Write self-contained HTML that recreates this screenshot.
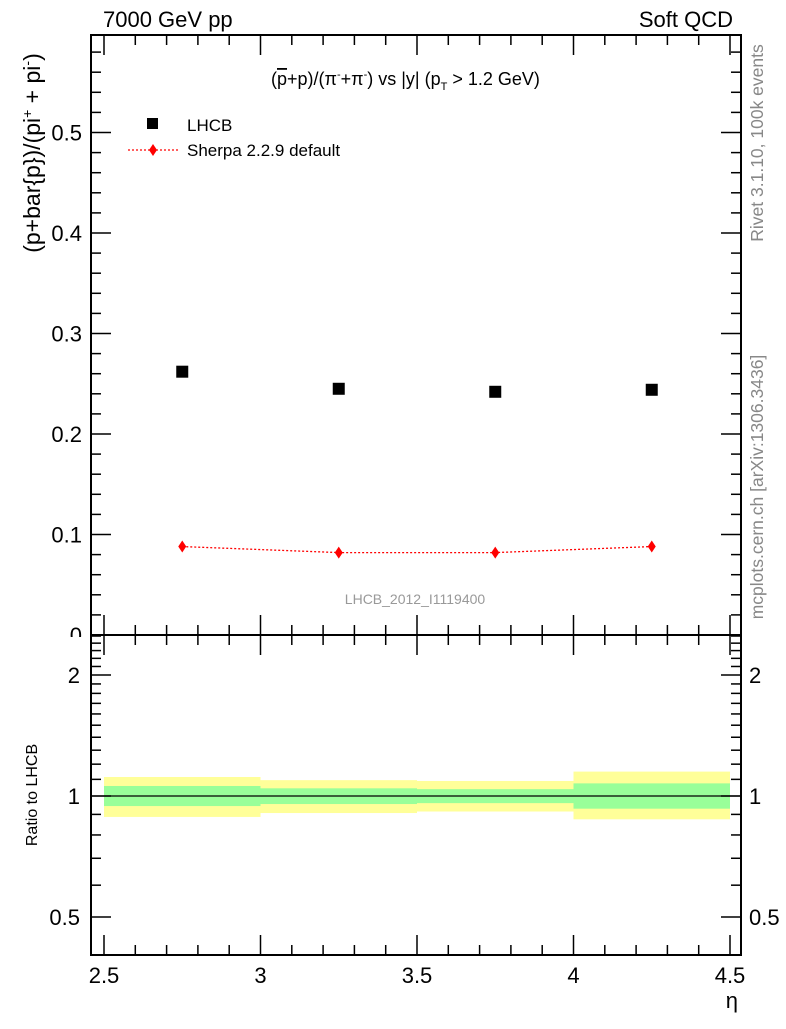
<!DOCTYPE html>
<html><head><meta charset="utf-8"><style>
body{margin:0;background:#fff;}
svg text{font-family:"Liberation Sans",sans-serif;}
</style></head><body>
<svg id="c" width="786" height="1024" xmlns="http://www.w3.org/2000/svg"></svg>
<script>
const categories=[2.75,3.25,3.75,4.25];
const binEdges=[2.5,3.0,3.5,4.0,4.5];
const lhcbValues=[0.262,0.245,0.242,0.244];
const sherpaValues=[0.088,0.082,0.082,0.088];
const yellowUp=[1.115,1.095,1.09,1.15];
const yellowDn=[0.887,0.907,0.915,0.875];
const greenUp=[1.059,1.045,1.04,1.075];
const greenDn=[0.944,0.955,0.96,0.93];
const mainTicks=[0,0.1,0.2,0.3,0.4,0.5];
const mainTickLabels=["0","0.1","0.2","0.3","0.4","0.5"];
const xTicks=[2.5,3,3.5,4,4.5];
const xTickLabels=["2.5","3","3.5","4","4.5"];
const ratioTicks=[0.5,1,2];
const ratioTickLabels=["0.5","1","2"];

const NS="http://www.w3.org/2000/svg";
const svg=document.getElementById('c');
const L=91,R=741,T=35,M=635,B=955;
const X=v=>104+(v-2.5)*313;
const Y=v=>635-v*1005;
const YR=v=>796-Math.log10(v)*402;
function el(t,a,p){const e=document.createElementNS(NS,t);for(const k in a)e.setAttribute(k,a[k]);(p||svg).appendChild(e);return e;}
function txt(x,y,s,o){const e=el('text',Object.assign({x:x,y:y,'font-size':20,fill:'#000'},o||{}));e.textContent=s;return e;}

for(let i=0;i<4;i++){
 const x0=X(binEdges[i]),x1=X(binEdges[i+1]);
 const yb=el('rect',{x:x0,y:YR(yellowUp[i]),width:x1-x0,height:YR(yellowDn[i])-YR(yellowUp[i]),fill:'#ffff99'});
 
 
 const gb=el('rect',{x:x0,y:YR(greenUp[i]),width:x1-x0,height:YR(greenDn[i])-YR(greenUp[i]),fill:'#99ff99'});
 
 
}
el('line',{x1:L,x2:R,y1:YR(1),y2:YR(1),stroke:'#000','stroke-width':1.3});

// main y tick labels (zero label partially hidden as in reference)
mainTicks.forEach((v,i)=>{const t=txt(82,Y(v)+8,mainTickLabels[i],{'text-anchor':'end','font-size':22});});
el('rect',{x:55,y:637,width:35,height:14,fill:'#fff'});

const f1=el('rect',{x:L,y:T,width:R-L,height:M-T,fill:'none',stroke:'#000','stroke-width':2});

const f2=el('rect',{x:L,y:M,width:R-L,height:B-M,fill:'none',stroke:'#000','stroke-width':2});


for(let v=2.5;v<=4.5001;v+=0.05){
 const major=Math.abs(v*2-Math.round(v*2))<1e-6;
 const mid=Math.abs(v*10-Math.round(v*10))<1e-6;
 const len=major?20:(mid?10:0);
 if(!len)continue;
 const x=X(v);
 el('line',{x1:x,x2:x,y1:M,y2:M-len,stroke:'#000','stroke-width':1.5});
 el('line',{x1:x,x2:x,y1:T,y2:T+len,stroke:'#000','stroke-width':1.5});
 el('line',{x1:x,x2:x,y1:B,y2:B-len,stroke:'#000','stroke-width':1.5});
 el('line',{x1:x,x2:x,y1:M,y2:M+len,stroke:'#000','stroke-width':1.5});
}
xTicks.forEach((v,i)=>{const t=txt(X(v),983,xTickLabels[i],{'text-anchor':'middle','font-size':22});});
const xl=txt(738,1008,'η',{'text-anchor':'end','font-size':22});

for(let v=0;v<=0.59;v+=0.02){
 const major=Math.abs(v*10-Math.round(v*10))<1e-6;
 const len=major?20:10;const y=Y(v);
 el('line',{x1:L,x2:L+len,y1:y,y2:y,stroke:'#000','stroke-width':1.5});
 el('line',{x1:R,x2:R-len,y1:y,y2:y,stroke:'#000','stroke-width':1.5});
}

const rminor=[0.4,0.5,0.6,0.7,0.8,0.9,1,1.1,1.2,1.3,1.4,1.5,1.6,1.7,1.8,1.9,2,2.1,2.2,2.3,2.4,2.5];
rminor.forEach(v=>{const major=ratioTicks.some(t=>Math.abs(t-v)<1e-6);const len=major?20:10;const y=YR(v);
 if(y<M||y>B)return;
 el('line',{x1:L,x2:L+len,y1:y,y2:y,stroke:'#000','stroke-width':1.5});
 el('line',{x1:R,x2:R-len,y1:y,y2:y,stroke:'#000','stroke-width':1.5});});
ratioTicks.forEach((v,i)=>{
 const t=txt(80,YR(v)+8,ratioTickLabels[i],{'text-anchor':'end','font-size':22});
 const t2=txt(749,YR(v)+8,ratioTickLabels[i],{'font-size':22});
});

const pts=categories.map((c,i)=>X(c)+','+Y(sherpaValues[i])).join(' ');
const sl=el('polyline',{points:pts,fill:'none',stroke:'#f00','stroke-width':1.3,'stroke-dasharray':'2,2'});

categories.forEach((c,i)=>{
 const x=X(c),y=Y(sherpaValues[i]);
 const d=el('polygon',{points:`${x},${y-6} ${x+4},${y} ${x},${y+6} ${x-4},${y}`,fill:'#f00'});
 
 const s=el('rect',{x:x-6,y:Y(lhcbValues[i])-6,width:12,height:12,fill:'#000'});
 
});

const lg=el('g',{});
el('rect',{x:147,y:118,width:11,height:11,fill:'#000'},lg);
txt(187,131,'LHCB',{'font-size':17},lg);
el('line',{x1:128,x2:178,y1:150,y2:150,stroke:'#f00','stroke-dasharray':'2,2','stroke-width':1.3},lg);
el('polygon',{points:'153,144 157,150 153,156 149,150',fill:'#f00'},lg);
txt(187,156,'Sherpa 2.2.9 default',{'font-size':17},lg);

let t;
t=txt(103,27,'7000 GeV pp',{'font-size':22});
t=txt(733,27,'Soft QCD',{'font-size':22,'text-anchor':'end'});
t=el('text',{x:271,y:85,'font-size':18});t.innerHTML='(<tspan text-decoration="overline">p</tspan>+p)/(π<tspan dy="-7" font-size="11">-</tspan><tspan dy="7">+π</tspan><tspan dy="-7" font-size="11">-</tspan><tspan dy="7">) vs |y| (p</tspan><tspan dy="5" font-size="11">T</tspan><tspan dy="-5"> &gt; 1.2 GeV)</tspan>';

t=txt(415,604,'LHCB_2012_I1119400',{'font-size':14,fill:'#999','text-anchor':'middle'});
t=el('text',{transform:'translate(40,153) rotate(-90)','font-size':23,'text-anchor':'middle'});t.innerHTML='(p+bar{p})/(pi<tspan dy="-8" font-size="14">+</tspan><tspan dy="8"> + pi</tspan><tspan dy="-8" font-size="14">-</tspan><tspan dy="8">)</tspan>';

t=txt(0,0,'Ratio to LHCB',{'font-size':16,'text-anchor':'middle',transform:'translate(37,795) rotate(-90)'});
t=txt(0,0,'Rivet 3.1.10,  100k events',{'font-size':17.5,fill:'#888','text-anchor':'middle',transform:'translate(763,143) rotate(-90)'});
t=txt(0,0,'mcplots.cern.ch [arXiv:1306.3436]',{'font-size':17.5,fill:'#888','text-anchor':'middle',transform:'translate(763,487) rotate(-90)'});
</script>
</body></html>
